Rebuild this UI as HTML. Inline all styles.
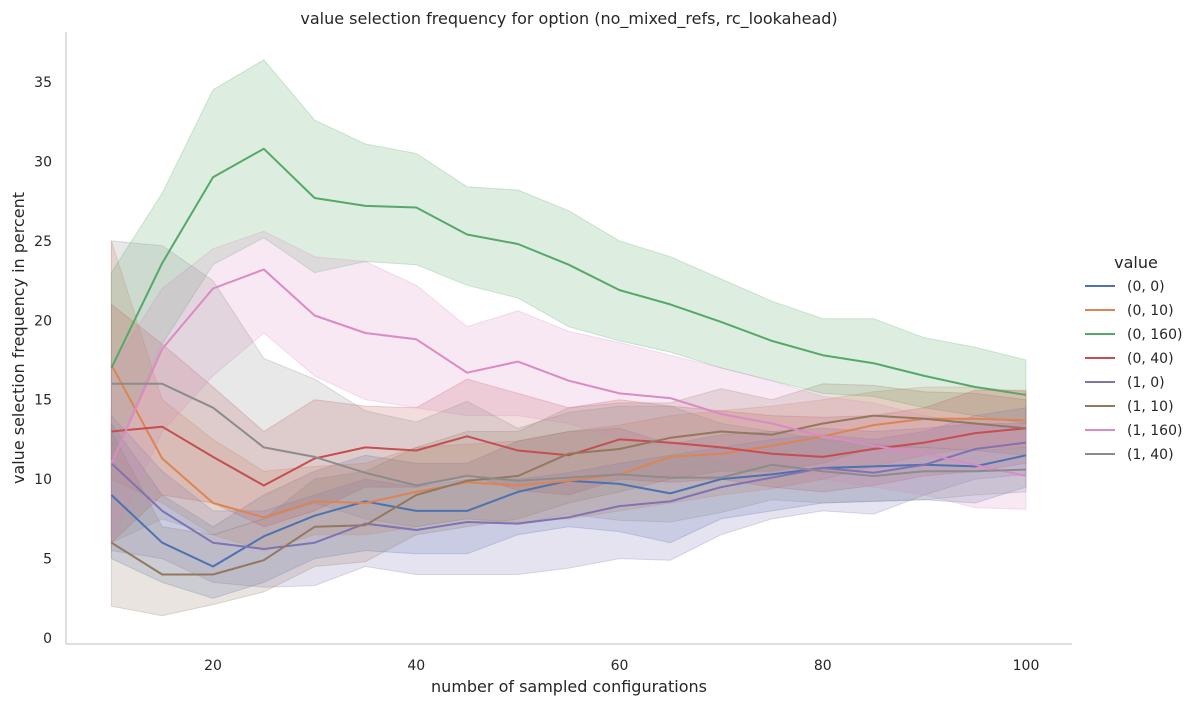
<!DOCTYPE html>
<html><head><meta charset="utf-8">
<style>
body{margin:0;background:#fff;font-family:"DejaVu Sans","Liberation Sans",sans-serif;}
svg text{font-family:"DejaVu Sans","Liberation Sans",sans-serif;fill:#262626;}
</style></head>
<body>
<svg id="chart" width="1201" height="706" xmlns="http://www.w3.org/2000/svg">
<text x="569" y="24" font-size="16" text-anchor="middle">value selection frequency for option (no_mixed_refs, rc_lookahead)</text>
<g id="plot"></g>
<line x1="66" y1="32" x2="66" y2="644" stroke="#ccc" stroke-width="1.25"/>
<line x1="66" y1="644" x2="1072" y2="644" stroke="#ccc" stroke-width="1.25"/>
<g id="yticks"></g>
<g id="xticks"></g>
<text x="569" y="692" font-size="16" text-anchor="middle">number of sampled configurations</text>
<text x="0" y="0" font-size="16" text-anchor="middle" transform="translate(24,338) rotate(-90)">value selection frequency in percent</text>
<g id="legend"></g>
</svg>
<script>
const xs = [10,15,20,25,30,35,40,45,50,55,60,65,70,75,80,85,90,95,100];
const seriesNames = ["(0, 0)","(0, 10)","(0, 160)","(0, 40)","(1, 0)","(1, 10)","(1, 160)","(1, 40)"];
const colors = ["#4c72b0","#dd8452","#55a868","#c44e52","#8172b3","#937860","#da8bc3","#8c8c8c"];
const mean00 = [9,6,4.5,6.4,7.7,8.6,8.0,8.0,9.2,9.9,9.7,9.1,10.0,10.3,10.7,10.8,10.9,10.8,11.5];
const hi00 = [13.5,9,7,9,10.5,11.5,11,11,12.4,13,13.2,12.2,12.8,13,13.2,13,13.2,13.5,13.5];
const lo00 = [5,3.5,2.5,3.5,5,5.5,5.3,5.3,6.5,7,6.7,6,7.5,8,8.5,8.6,8.7,8.5,9.5];
const mean010 = [17.2,11.3,8.5,7.6,8.6,8.5,9.2,9.8,9.6,9.9,10.3,11.4,11.6,12.1,12.7,13.4,13.8,13.8,13.7];
const hi010 = [25,15,12.5,10.5,10.8,11,12,12.2,12.4,13,13.4,14,14.3,14.6,15,15.5,15.8,15.8,15.5];
const lo010 = [10,8.5,6.5,5.5,6.5,6.5,7,7.5,7.3,7.5,8,8.5,9,9.4,10,10.8,11.5,12,12];
const mean0160 = [17,23.6,29,30.8,27.7,27.2,27.1,25.4,24.8,23.5,21.9,21.0,19.9,18.7,17.8,17.3,16.5,15.8,15.3];
const hi0160 = [23,28,34.5,36.4,32.6,31.1,30.5,28.4,28.2,26.9,25.0,24.0,22.6,21.2,20.1,20.1,18.9,18.3,17.5];
const lo0160 = [11,18.5,23.5,25.2,23,23.7,23.5,22.2,21.4,19.6,18.7,18.0,17.0,16.2,15.4,15.2,14.5,14.0,13.5];
const mean040 = [13,13.3,11.4,9.6,11.3,12,11.8,12.7,11.8,11.5,12.5,12.3,12,11.6,11.4,11.9,12.3,12.9,13.2];
const hi040 = [21,18.5,15.8,13,15,14.6,14.5,16.3,15.4,14.5,15,14.6,14.3,14,13.9,14,14.5,15.6,15.6];
const lo040 = [6,9,8.5,7,8,9.5,9.5,10.3,9.3,9,10,9.8,10,9.5,9.2,9.6,10.2,10.5,11];
const mean10 = [11,8,6,5.6,6,7.2,6.8,7.3,7.2,7.6,8.3,8.6,9.5,10.1,10.7,10.4,10.9,11.9,12.3];
const hi10 = [14,10.5,8,8,9,10,9.5,10,10,10.4,11,11.5,12,12.5,12.8,12.5,13,14,14.5];
const lo10 = [5.5,5,3.5,3.2,3.3,4.5,4,4,4,4.4,5,4.9,6.5,7.5,8,7.8,9,10,10.3];
const mean110 = [6,4,4,4.9,7,7.1,9,9.9,10.2,11.6,11.9,12.6,13,12.8,13.5,14,13.8,13.5,13.2];
const hi110 = [13,7,6.5,7.5,10,10.5,12,13,13,14.5,14.8,14.8,15.7,15,16,15.9,15.5,15.4,15];
const lo110 = [2,1.4,2.1,2.9,4.5,4.8,6.5,7,7.5,8.5,9.2,10,10.5,10.5,11,12,12,11.8,11.5];
const mean1160 = [11,18.2,22,23.2,20.3,19.2,18.8,16.7,17.4,16.2,15.4,15.1,14.1,13.5,12.7,12.1,11.6,10.9,10.2];
const hi1160 = [17,22,24.5,25.6,24,23.7,22.2,19.6,20.6,19.3,18.6,17.8,17,16.2,15.2,14.8,14,13.5,13.5];
const lo1160 = [6,13,16.5,19.2,16.5,15,14.5,14,14,13.5,12.5,12,11.2,10.8,10,9.5,9,8.2,8.1];
const mean140 = [16,16,14.5,12,11.4,10.4,9.6,10.2,9.9,10.1,10.3,10.1,10.1,10.9,10.5,10.2,10.5,10.5,10.6];
const hi140 = [25,24.7,22.5,17.6,16.3,14.3,13.6,14.9,13.2,14.2,14.6,14.6,13.5,13,12.5,12.2,12,11.8,12];
const lo140 = [6,7.5,6.5,7.5,8.5,7.5,7,7.5,7.2,7.8,7.4,7.3,7.9,8.7,8.5,8.6,8.7,9,9.2];
const means = [mean00,mean010,mean0160,mean040,mean10,mean110,mean1160,mean140];
const his = [hi00,hi010,hi0160,hi040,hi10,hi110,hi1160,hi140];
const los = [lo00,lo010,lo0160,lo040,lo10,lo110,lo1160,lo140];
const yTicks = [0,5,10,15,20,25,30,35];
const xTicks = [20,40,60,80,100];

const NS = "http://www.w3.org/2000/svg";
const X = v => 213 + (v - 20) * (1026 - 213) / 80;
const Y = v => 638 - v * (638 - 82) / 35;
const plot = document.getElementById('plot');
function mk(tag, attrs, parent){const e=document.createElementNS(NS,tag);for(const k in attrs)e.setAttribute(k,attrs[k]);parent.appendChild(e);return e;}

means.forEach((m, i) => {
  const up = xs.map((x,j)=>X(x).toFixed(1)+','+Y(his[i][j]).toFixed(1));
  const dn = xs.map((x,j)=>X(x).toFixed(1)+','+Y(los[i][j]).toFixed(1)).reverse();
  const band = mk('polygon',{points:up.concat(dn).join(' '),fill:colors[i],'fill-opacity':0.2,stroke:colors[i],'stroke-opacity':0.25,'stroke-width':1},plot);
  
  
});
means.forEach((m, i) => {
  const pts = xs.map((x,j)=>X(x).toFixed(1)+','+Y(m[j]).toFixed(1)).join(' ');
  const line = mk('polyline',{points:pts,fill:'none',stroke:colors[i],'stroke-width':2,'stroke-linejoin':'round'},plot);
  
  
});
const yt = document.getElementById('yticks');
yTicks.forEach(v => {
  const t = mk('text',{x:52,y:Y(v)+5,'font-size':14,'text-anchor':'end'},yt);
  t.textContent = v;
  
  
});
const xt = document.getElementById('xticks');
xTicks.forEach(v => {
  const t = mk('text',{x:X(v),y:670,'font-size':14,'text-anchor':'middle'},xt);
  t.textContent = v;
  
  
});
const lg = document.getElementById('legend');
const lt = mk('text',{x:1136,y:268,'font-size':16,'text-anchor':'middle'},lg);
lt.textContent = 'value';


seriesNames.forEach((n, i) => {
  const y = 286 + i * 24;
  const g = mk('g',{},lg);
  
  
  mk('line',{x1:1085,y1:y,x2:1115,y2:y,stroke:colors[i],'stroke-width':2},g);
  const t = mk('text',{x:1127,y:y+5,'font-size':14},g);
  t.textContent = n;
});
</script>
</body></html>
